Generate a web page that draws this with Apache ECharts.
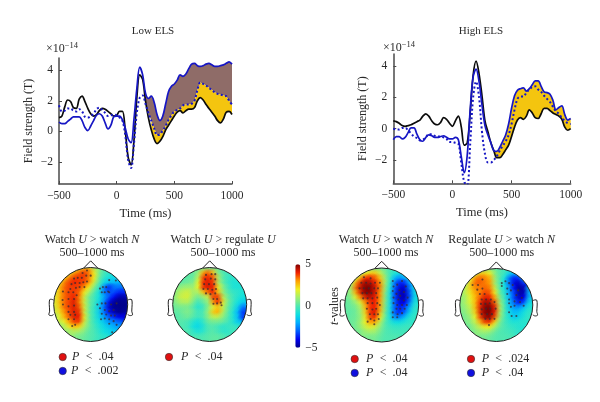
<!DOCTYPE html>
<html><head><meta charset="utf-8">
<style>html,body{margin:0;padding:0;background:#fff}#c{width:600px;height:402px}</style>
<script src="https://cdn.jsdelivr.net/npm/echarts@6/dist/echarts.min.js"></script>
</head><body><div id="c"></div>
<script>
const times=[-500,-475,-450,-425,-400,-375,-350,-325,-300,-275,-250,-225,-200,-175,-150,-125,-100,-75,-50,-25,0,25,50,75,100,125,150,175,200,225,250,275,300,325,350,375,400,425,450,475,500,525,550,575,600,625,650,675,700,725,750,775,800,825,850,875,900,925,950,975,1000];
const lowBlack=[.9,1,1.6,2.05,1.95,1.55,1.5,2.1,2.3,1.95,1.5,1.15,1,1.1,1.35,1.5,1.45,1.3,1.15,1,1.05,1.3,1.3,0,-1.7,-2.2,-.6,2.2,3.7,3.4,2,.9,.1,-.5,-.8,-.65,-.35,.1,.4,.7,1,1.25,1.35,1.2,1.35,1.45,1.45,1.55,2,2.2,2.05,1.75,1.5,1.25,1,.7,.55,.8,1.25,1.3,1.1];
const lowBlue=[.6,.5,.5,.65,.8,.95,.95,.95,.7,.25,.05,.35,.7,1.05,1.15,1,.55,.15,.4,.95,1,1,.75,.2,-.5,-.75,.8,2.8,4.2,3.7,2.5,2.15,2.3,1.9,1.1,.7,1,1.8,2.6,2.95,3.1,3.35,3.7,3.6,3.75,4.1,4.4,4.45,4.3,4.25,4.3,4.4,4.45,4.35,4.25,4.25,4.3,4.35,4.45,4.55,4.4];
const lowDotted=[1.7,1.3,1.35,1.5,1.5,1.35,1.3,1.45,1.3,.95,.9,1,1.15,1.45,1.55,1.4,1.2,1,1.05,1.1,1.05,.9,.7,-.3,-1.9,-2.4,-.8,1.2,2.2,2.35,1.8,1.2,.7,.2,-.25,-.2,.05,.35,.75,1.05,1.3,1.4,1.5,1.7,1.75,1.75,1.8,2,2.7,3.2,3.1,3,2.85,2.7,2.55,2.45,2.4,2.35,2.3,2,1.75];
const highBlack=[.5,.45,.35,.2,.15,.2,.25,.35,.45,.55,.8,.95,.8,.5,.3,.25,.4,.7,.6,.35,.15,.5,.8,.1,-1.05,-.9,1,3.4,4.3,3.5,2.1,.5,-.2,-.9,-1.4,-1.85,-1.85,-1.65,-1.35,-1.05,-.5,.1,.55,.7,.6,.8,1.2,1,.7,.65,.95,1.3,1.3,1.15,1,.9,.8,.6,.1,-.1,0];
const highBlue=[-.7,-.5,-.5,-.65,-.55,-.25,.05,.05,-.35,-.7,-.8,-.55,-.4,-.45,-.55,-.55,-.5,-.45,-.55,-.65,-.65,-.55,-.7,-1.8,-2.8,-1.7,1.2,3.3,3.8,3,1.5,.2,-.4,-.9,-1.4,-1.45,-1.2,-.8,-.4,.3,1.3,2.1,2.45,2.55,2.6,2.4,2.55,2.8,3.05,3.05,2.7,2.35,2.3,2.2,1.8,1.2,1.35,1.45,.9,.55,.65];
const highDotted=[0,-.05,-.05,.05,.05,-.1,-.3,-.5,-.6,-.75,-.7,-.55,-.35,-.35,-.45,-.5,-.5,-.55,-.65,-.85,-.85,-.9,-.95,-2.2,-3.4,-3.6,-1,2,3,2,-.2,-1.6,-2.15,-2.15,-2,-1.75,-1.4,-1.1,-.8,-.4,.3,1.2,1.9,2.05,2.05,2.3,2.5,2.65,2.7,2.5,2.35,2.1,1.9,1.7,1.4,1.1,.95,.7,.5,.35,.3];
const yTicks=[-2,0,2,4];
const xTicks=[-500,0,500,1000];
const head1=[
[0,0,0,0,1.5,2,2.5,2.5,1,.5,0,0,0,-.3,-.3],
[0,0,.5,1.8,3,3.5,3.8,3.3,2,.5,-.2,-.5,-.8,-.8,-.8],
[0,1.5,2.5,3.3,3.8,3.8,3.8,3.2,2,.3,-.5,-1,-1.3,-1.3,-1.3],
[1.5,2.3,3.3,3.8,4,3.8,3.7,3,1.5,0,-1.2,-1.7,-1.8,-2,-2],
[1.8,2.8,3.5,3.8,3.8,3.7,3,2,.5,-.5,-2.7,-3.7,-2.8,-2.8,-2.8],
[1.8,2.8,3.5,3.8,3.8,3.4,2,1,0,-1,-2.7,-3.2,-3.2,-3.7,-3.7],
[1.8,2.8,3.5,3.8,4,3.2,1.5,.3,-.3,-1,-2.2,-3.2,-4,-4.7,-4.7],
[1.8,2.8,3.5,3.8,4.2,3.2,1.5,.3,-.3,-1.3,-2.6,-4.1,-4.9,-5,-5],
[1.7,2.6,3.5,3.8,4.2,3.5,1.6,.3,-.5,-1.5,-3,-4.4,-5,-5,-5],
[1.5,2.3,3.2,3.8,4.2,3.8,1.6,.2,-.5,-1.5,-2.8,-3.9,-4.6,-5,-4.8],
[1,1.9,2.9,3.6,4.2,4,1.9,.3,-.5,-1.3,-2.3,-3.1,-3.6,-4.1,-4.1],
[.8,1.3,2,3,3.8,3.7,1.6,.3,-.4,-1,-1.6,-2.3,-2.6,-3,-3],
[.5,.8,1.3,2.1,2.6,2.3,1.1,.3,-.2,-.8,-1.2,-1.6,-2,-2.2,-2.2],
[.2,.4,.7,1,1.2,1,.6,.1,-.1,-.6,-1,-1.2,-1.5,-1.5,-1.5],
[0,.2,.3,.5,.6,.5,.3,.1,-.1,-.4,-.6,-.8,-.8,-.8,-.8]];
const head2=[
[0,0,0,0,0,.2,.5,.5,.3,0,0,0,0,0,0],
[0,0,0,.2,.3,1,3,3.5,2.5,.5,0,-.3,-.3,0,0],
[0,0,0,.2,.3,1.5,3.8,4,3.5,1.2,0,-.4,-.6,-.5,-.5],
[.2,.2,.3,.4,.6,2,4,4.2,3.8,1.2,.2,-.5,-.8,-.8,-.8],
[.5,.7,1,1,1,2,4,4.2,4,2,.6,-.2,-.8,-.8,-.8],
[.6,1.2,1.5,1.6,1,1.2,2.5,3.5,4,2.5,.8,0,-.4,-.6,-.8],
[.6,1.4,1.6,1.6,.8,.4,.9,1.5,3.8,3.8,1.4,.3,-.3,-.7,-1],
[.5,1,1.2,1.2,.4,-.3,.3,.9,3,4,1.8,.4,-.3,-1,-1.5],
[.3,.5,.5,.5,0,-.7,-.2,.8,1.8,2.5,1.4,.2,-.5,-1.5,-2.8],
[.2,.2,.5,.6,.2,-.3,0,1,2.5,2.8,1.2,.1,-.8,-2,-3.5],
[.1,.1,.3,.4,0,-.3,0,.8,1.4,1.4,.7,0,-.8,-1.8,-3.5],
[.1,.1,0,-.2,-.7,-1,-.4,.3,.4,.4,.2,-.2,-.7,-1.5,-2.5],
[0,0,0,-.3,-1,-1.2,-.7,0,0,-.3,-.6,-.4,-.3,-.5,-1],
[0,0,0,0,-.5,-.8,-.5,0,.1,-.2,-.5,-.5,-.2,0,0],
[0,0,0,0,0,-.1,0,.1,.2,.2,0,0,0,0,0]];
const head3=[
[0,0,0,0,.2,.5,.5,.3,0,-.2,-.2,-.2,-.2,0,0],
[0,0,.3,1,2,2.5,2.5,1.5,.5,-.3,-.8,-1,-1,-.5,0],
[.2,.5,1.5,3,4,4,3.5,2.5,.8,-.5,-2,-2.5,-2,-1,-.5],
[.5,1,3,4.2,4.8,4.5,4,3,1,-.8,-3,-3.8,-3.5,-2,-1],
[.5,1.2,3.5,4.5,5,5,4.2,3.2,.8,-1,-3.2,-4.3,-4.3,-2.5,-1],
[.5,1,2.8,4.2,5,4.8,4.2,3,.6,-1.2,-3.5,-4.5,-4.5,-3,-1],
[.3,.7,1.8,3.2,4.2,4.5,4,3,.5,-1.2,-3.5,-4.5,-4.5,-3,-1],
[.2,.4,.9,1.8,3.2,4,4,2.8,.5,-1.2,-3.2,-4.2,-4,-2.5,-.8],
[.2,.3,.5,1.2,2.8,4,4,2.8,.4,-1.2,-3.2,-3.8,-3.2,-1.8,-.5],
[.2,.2,.4,1,2.5,4,4.2,2.5,.3,-1.2,-3.2,-3.6,-2.8,-1.2,-.5],
[.2,.3,.4,.9,2.2,3.8,3.8,2,.2,-1,-2.5,-2.5,-1.5,-.7,-.4],
[.2,.3,.5,1,2,3,2.8,1.2,0,-.6,-1,-1,-.7,-.5,-.3],
[.2,.3,.5,.9,1.5,1.8,1.5,.7,0,-.3,-.4,-.4,-.3,-.3,-.2],
[0,.2,.3,.6,.9,1,.9,.4,0,-.1,-.2,-.2,-.2,-.1,0],
[0,0,.1,.3,.5,.5,.5,.2,0,0,0,0,0,0,0]];
const head4=[
[0,0,0,0,.3,.5,.5,.2,0,-.2,-.3,-.3,-.2,0,0],
[0,.2,.5,1.5,2.5,2.5,2,.7,0,-.4,-1.5,-2,-1.5,-.5,0],
[.3,.8,2,3.2,3.5,3.2,2.8,.9,0,-1,-3,-3.8,-3.5,-2,-.5],
[.5,1.2,2.5,3.5,3.5,3.3,3,1,-.1,-1.2,-3,-4.3,-4.5,-3.5,-1],
[.8,1.5,2.5,3.2,3.3,3.5,3.2,1.5,0,-1,-2.5,-4,-5,-4.5,-1.5],
[.8,1.5,2.2,3,3.3,3.8,3.5,2,.2,-.7,-2.2,-3.5,-4.8,-4.5,-1.8],
[.8,1.2,2,2.8,3.6,4.2,4,2.8,.6,-.5,-2,-3.5,-4.5,-4,-1.5],
[.7,1.2,1.8,2.8,4,4.8,4.5,3.5,1,-.3,-1.8,-3,-3.8,-3,-1],
[.6,1,1.5,2.8,4.2,5,5,4,1.3,-.2,-1.5,-2.3,-2.3,-1.5,-.7],
[.5,.8,1.3,2.5,4.2,5,5,4,1.2,-.2,-1.2,-1.8,-1.5,-.9,-.5],
[.4,.6,1,2,3.8,4.8,4.8,3.5,1,-.2,-.9,-1.5,-1.2,-.7,-.4],
[.3,.5,.8,1.5,2.8,3.8,3.8,2.2,.5,-.2,-.6,-.8,-.7,-.6,-.4],
[.2,.3,.5,1,1.5,2,2,1,.2,-.1,-.4,-.5,-.7,-.7,-.5],
[0,.2,.4,.7,.9,1,.8,.3,0,-.1,-.2,-.4,-.6,-.6,-.4],
[0,.1,.2,.3,.4,.5,.3,.1,0,0,-.1,-.2,-.2,-.2,0]];
const sites1=[[-.22,.85],[-.1,.92],[0,.78],[-.12,.78],[-.24,.72],[-.35,.72],[-.45,.7],[-.1,.62],[-.2,.6],[-.3,.58],[-.42,.58],[-.52,.55],[-.17,.47],[-.3,.47],[-.4,.45],[-.55,.42],[-.75,.35],[-.6,.33],[-.47,.33],[-.38,.25],[-.76,.12],[-.6,.15],[-.45,.15],[-.75,0],[-.6,-.05],[-.45,-.03],[-.6,-.2],[-.45,-.2],[-.55,-.28],[-.42,-.28],[-.6,-.4],[-.45,-.4],[-.42,-.55],[-.5,-.58],[.5,.66],[.68,.65],[.25,.43],[.33,.47],[.42,.47],[.47,.35],[.3,.33],[.38,.33],[.5,.33],[.18,0],[.3,.03],[.4,.03],[.55,0],[.7,.03],[.25,-.1],[.38,-.15],[.5,-.18],[.62,-.15],[.3,-.25],[.42,-.27],[.55,-.3],[.65,-.3],[.38,-.38],[.5,-.4],[.62,-.45],[.28,-.4],[.7,-.55],[.5,-.52],[.58,-.75]];
const sites2=[[-.1,.8],[.05,.82],[.15,.82],[-.12,.68],[.03,.7],[.15,.68],[-.15,.55],[-.02,.55],[.12,.55],[-.17,.42],[-.05,.42],[.07,.4],[.17,.42],[-.1,.3],[.02,.28],[.15,.3],[.1,.15],[.2,.15],[.3,.05],[.1,.02],[.2,.03],[.32,-.02]];
const sites3=[[-.48,.75],[-.3,.72],[-.55,.6],[-.42,.6],[-.3,.58],[-.18,.6],[-.05,.6],[-.6,.45],[-.48,.45],[-.35,.45],[-.2,.45],[-.1,.45],[-.52,.32],[-.4,.32],[-.28,.32],[-.15,.32],[-.5,.18],[-.38,.18],[-.25,.18],[-.12,.2],[-.38,.05],[-.25,.05],[-.12,.05],[-.05,0],[-.4,-.1],[-.25,-.12],[-.15,-.1],[-.32,-.25],[-.2,-.25],[-.1,-.25],[-.3,-.38],[-.2,-.42],[-.08,-.38],[-.38,-.45],[-.2,-.52],[.3,.65],[.42,.55],[.55,.65],[.65,.5],[.32,.5],[.48,.4],[.6,.35],[.3,.38],[.4,.3],[.5,.25],[.7,.2],[.32,.2],[.45,.15],[.6,.12],[.32,.05],[.42,0],[.55,0],[.68,0],[.4,-.1],[.5,-.1],[.62,-.1],[.3,-.2],[.43,-.25],[.55,-.22],[.3,-.33],[.42,-.33]];
const sites4=[[-.65,.55],[-.5,.55],[-.38,.7],[-.52,.42],[-.38,.45],[-.45,.3],[-.32,.3],[-.4,.15],[-.28,.15],[-.15,.15],[-.42,.03],[-.3,.03],[-.18,.05],[-.05,.08],[-.4,-.12],[-.28,-.1],[-.17,-.1],[-.02,-.1],[-.4,-.25],[-.25,-.25],[-.12,-.25],[-.3,-.38],[-.18,-.38],[-.05,-.38],[-.2,-.55],[.15,.6],[.25,.65],[.35,.6],[.15,.52],[.3,.45],[.45,.55],[.6,.4],[.4,.4],[.3,.3],[.55,.27],[.7,.2],[.35,.15],[.5,.1],[.65,.08],[.35,.05],[.5,-.02],[.75,-.02],[.35,-.2],[.42,-.3],[.55,-.3],[.4,-.05]];

const FONT='"Liberation Serif",serif', INK='#2a2a2a', BLUE='#1616c4', BLACK='#0c0c0c';
const YELLOW='#f4c50f', BROWN='#8f6c68', AXIS='#4a4a4a';
const JET=['#00008c','#0000f0','#0060ff','#00b0ff','#10e0e0','#50e8b0','#a0f070','#f0f020','#ffa000','#f02000','#800000'];
const n=15, mapHeads=[head1,head2,head3,head4], mapSites=[sites1,sites2,sites3,sites4];
const headBoxes=[[90.7,304.5,37],[209.7,304.5,37],[381.7,305,37],[496.3,305,36.5]];

const grids=[
 {left:59,top:58,width:173,height:126},
 {left:393.3,top:54,width:177.4,height:129.3},
 ...headBoxes.map(b=>({left:b[0]-b[2],top:b[1]-b[2],width:2*b[2],height:2*b[2]})),
 {left:295.3,top:264.3,width:5,height:83.4}
];
function plotX(i){return{type:'value',gridIndex:i,min:-500,max:1000,
 axisLine:{onZero:false,lineStyle:{color:AXIS,width:1.5}},splitLine:{show:false},
 axisTick:{inside:true,length:3,lineStyle:{color:AXIS},customValues:xTicks},
 axisLabel:{color:INK,fontFamily:FONT,fontSize:11.5,margin:6,hideOverlap:false,showMinLabel:true,showMaxLabel:true,customValues:xTicks,formatter:v=>String(v).replace('-','\u2212')},
 name:'Time (ms)',nameLocation:'middle',nameGap:23,nameTextStyle:{color:INK,fontFamily:FONT,fontSize:12.5}}}
function plotY(i,min,max,gap){return{type:'value',gridIndex:i,min,max,
 axisLine:{onZero:false,show:true,lineStyle:{color:AXIS,width:1.5}},splitLine:{show:false},
 axisTick:{show:true,inside:true,length:3,lineStyle:{color:AXIS},customValues:yTicks},
 axisLabel:{color:INK,fontFamily:FONT,fontSize:11.5,margin:6,customValues:yTicks,formatter:v=>String(v).replace('-','\u2212')},
 name:'Field strength (T)',nameLocation:'middle',nameGap:gap,nameTextStyle:{color:INK,fontFamily:FONT,fontSize:12}}}
const hidden=(i,min,max)=>({type:'value',gridIndex:i,min,max,show:false});

const xAxis=[plotX(0),plotX(1)],yAxis=[plotY(0,-3.45,4.8,24),plotY(1,-3.48,4.76,24)];
headBoxes.forEach((b,k)=>{xAxis.push(hidden(k+2,-1,1));yAxis.push(hidden(k+2,-1,1));});
xAxis.push(hidden(6,0,1));
yAxis.push({type:'value',gridIndex:6,min:-5,max:5,interval:5,position:'right',z:20,
 axisLine:{show:false},axisTick:{show:false},splitLine:{show:false},
 axisLabel:{color:INK,fontFamily:FONT,fontSize:11.5,margin:5,formatter:v=>String(v).replace('-','\u2212')},
 name:'{i|t}-values',nameLocation:'middle',nameGap:29,nameRotate:90,
 nameTextStyle:{color:INK,fontFamily:FONT,fontSize:12,rich:{i:{fontStyle:'italic',fontFamily:FONT,fontSize:12,color:INK}}}});

function band(name,idx,top,bottom,start,color){
 return{type:'custom',name,xAxisIndex:idx,yAxisIndex:idx,clip:true,silent:true,z:1,data:[[0,0]],
  renderItem(p,api){
   const pts=[];
   for(let i=start;i<times.length;i++)pts.push(api.coord([times[i],top[i]]));
   for(let i=times.length-1;i>=start;i--)pts.push(api.coord([times[i],bottom[i]]));
   return{type:'polygon',shape:{points:pts},style:{fill:color}};
  }};
}
function line(name,idx,vals,color,dotted){
 return{type:'line',name,xAxisIndex:idx,yAxisIndex:idx,showSymbol:false,smooth:.35,z:3,silent:true,
  data:times.map((t,i)=>[t,vals[i]]),
  lineStyle:{color,width:dotted?2:1.7,type:dotted?[2,2.4]:'solid'}};
}
const series=[
 band('low upper',0,lowBlue,lowDotted,30,BROWN),
 band('low lower',0,lowDotted,lowBlack,32,YELLOW),
 line('low black',0,lowBlack,BLACK),line('low blue',0,lowBlue,BLUE),line('low dotted',0,lowDotted,BLUE,true),
 band('high band',1,highBlue,highBlack,31,YELLOW),
 line('high black',1,highBlack,BLACK),line('high blue',1,highBlue,BLUE),line('high dotted',1,highDotted,BLUE,true)
];
const mapSeries=[];
mapHeads.forEach((m,k)=>{
 const ax=k+2,data=[];
 m.forEach((row,r)=>row.forEach((v,c)=>{
  const x=-1+(c+.5)*2/n,y=1-(r+.5)*2/n;
  if(x*x+y*y<1.12)data.push([x,y,v]);
 }));
 series.push({type:'custom',xAxisIndex:ax,yAxisIndex:ax,data:[[0,0]],clip:false,silent:true,z:2,
  renderItem(p,api){const o=api.coord([0,0]),R=api.size([1,0])[0];
   return{type:'circle',shape:{cx:o[0],cy:o[1],r:R},style:{fill:JET[5]}};}});
 mapSeries.push(series.length);
 series.push({type:'custom',name:'map'+(k+1),xAxisIndex:ax,yAxisIndex:ax,data,clip:false,silent:true,z:3,
  encode:{x:0,y:1},
  renderItem(p,api){
   const q=api.coord([api.value(0),api.value(1)]),R=api.size([2/n,0])[0]*1.55,col=api.visual('color');
   const mod=echarts.color.modifyAlpha;
   return{type:'circle',shape:{cx:q[0],cy:q[1],r:R},style:{fill:{type:'radial',x:.5,y:.5,r:.5,
     colorStops:[{offset:0,color:mod(col,1)},{offset:.35,color:mod(col,.8)},{offset:1,color:mod(col,0)}]}}};
  }});
 series.push({type:'custom',xAxisIndex:ax,yAxisIndex:ax,data:[[0,0]],clip:false,silent:true,z:4,
  renderItem(p,api){
   const o=api.coord([0,0]),R=api.size([1,0])[0],P=(x,y)=>[o[0]+x*R,o[1]-y*R];
   const ear=s=>[P(s*1.0,.12),P(s*1.06,.14),P(s*1.11,.13),P(s*1.12,.0),P(s*1.11,-.18),P(s*1.13,-.28),P(s*1.06,-.3),P(s*1.0,-.27)];
   const ls={fill:'none',stroke:'#222',lineWidth:1};
   return{type:'group',children:[
    {type:'ring',shape:{cx:o[0],cy:o[1],r:R+9.5,r0:R},style:{fill:'#fff'}},
    {type:'circle',shape:{cx:o[0],cy:o[1],r:R},style:ls},
    {type:'polyline',shape:{points:[P(-.19,.985),P(0,1.18),P(.19,.985)]},style:ls},
    {type:'polyline',shape:{points:ear(-1),smooth:.3},style:ls},
    {type:'polyline',shape:{points:ear(1),smooth:.3},style:ls}
   ]};
  }});
 series.push({type:'scatter',xAxisIndex:ax,yAxisIndex:ax,z:5,silent:true,symbolSize:2.1,data:mapSites[k],itemStyle:{color:'#3a2a30',opacity:.75}});
});
series.push({type:'line',xAxisIndex:6,yAxisIndex:6,data:[],silent:true});

const rich11={a:{fontFamily:FONT,fontSize:12,color:INK,lineHeight:13},i:{fontFamily:FONT,fontSize:12,fontStyle:'italic',color:INK,lineHeight:13}};
const mkTitle=(x,y,t,fs)=>({text:t,left:x,top:y,textAlign:'center',padding:0,itemGap:0,z:20,textStyle:{fontFamily:FONT,fontSize:fs||12,fontWeight:'normal',color:INK,lineHeight:13,rich:rich11}});
const titles=[
 {text:'Low ELS',left:153,top:25.5,textAlign:'center',padding:0,textStyle:{fontFamily:FONT,fontSize:11,fontWeight:'normal',color:INK}},
 {text:'High ELS',left:481,top:25.5,textAlign:'center',padding:0,textStyle:{fontFamily:FONT,fontSize:11,fontWeight:'normal',color:INK}},
 mkTitle(92,233,'{a|Watch }{i|U}{a| > watch }{i|N}\n{a|500\u20131000 ms}'),
 mkTitle(223,233,'{a|Watch }{i|U}{a| > regulate }{i|U}\n{a|500\u20131000 ms}'),
 mkTitle(386,233,'{a|Watch }{i|U}{a| > watch }{i|N}\n{a|500\u20131000 ms}'),
 mkTitle(501.7,233,'{a|Regulate }{i|U}{a| > watch }{i|N}\n{a|500\u20131000 ms}')
];
const supRich={a:{fontFamily:FONT,fontSize:12,color:INK},s:{fontFamily:FONT,fontSize:8.5,color:INK,verticalAlign:'bottom',padding:[0,0,6,0]}};
const keys=[[62.7,357,'#e01010','.04',72],[62.7,371,'#1010e0','.002',71],[169,357,'#e01010','.04',181],
 [354.7,359,'#e01010','.04',366],[354.7,373,'#1010e0','.04',366],[471,359,'#e01010','.024',481.7],[471,373,'#1010e0','.04',481.7]];
const graphic=[
 {type:'text',left:46,top:41,z:20,style:{text:'\u00d710{s|\u221214}',rich:supRich,font:'12px '+FONT,fill:INK}},
 {type:'text',left:383,top:40,z:20,style:{text:'\u00d710{s|\u221214}',rich:supRich,font:'12px '+FONT,fill:INK}}
];
keys.forEach(k=>{
 graphic.push({type:'circle',z:20,shape:{cx:k[0],cy:k[1],r:3.7},style:{fill:k[2],stroke:'#333',lineWidth:.6}});
 graphic.push({type:'text',z:20,left:k[4],top:k[1]-6,style:{text:'{i|P} {a| <  '+k[3]+'}',
  rich:{i:{fontStyle:'italic',fontFamily:FONT,fontSize:12,color:INK},a:{fontFamily:FONT,fontSize:12,color:INK}},fill:INK}});
});

const chart=echarts.init(document.getElementById('c'),null,{renderer:'canvas'});
chart.setOption({
 animation:false,backgroundColor:'#fff',title:titles,grid:grids,xAxis,yAxis,series,graphic,
 visualMap:{type:'continuous',min:-5,max:5,seriesIndex:mapSeries,dimension:2,left:295.3,top:264.3,itemWidth:5,itemHeight:83.4,padding:0,
  calculable:false,realtime:false,text:['',''],showLabel:false,inRange:{color:JET},textStyle:{fontSize:0},hoverLink:false}
});
</script></body></html>
